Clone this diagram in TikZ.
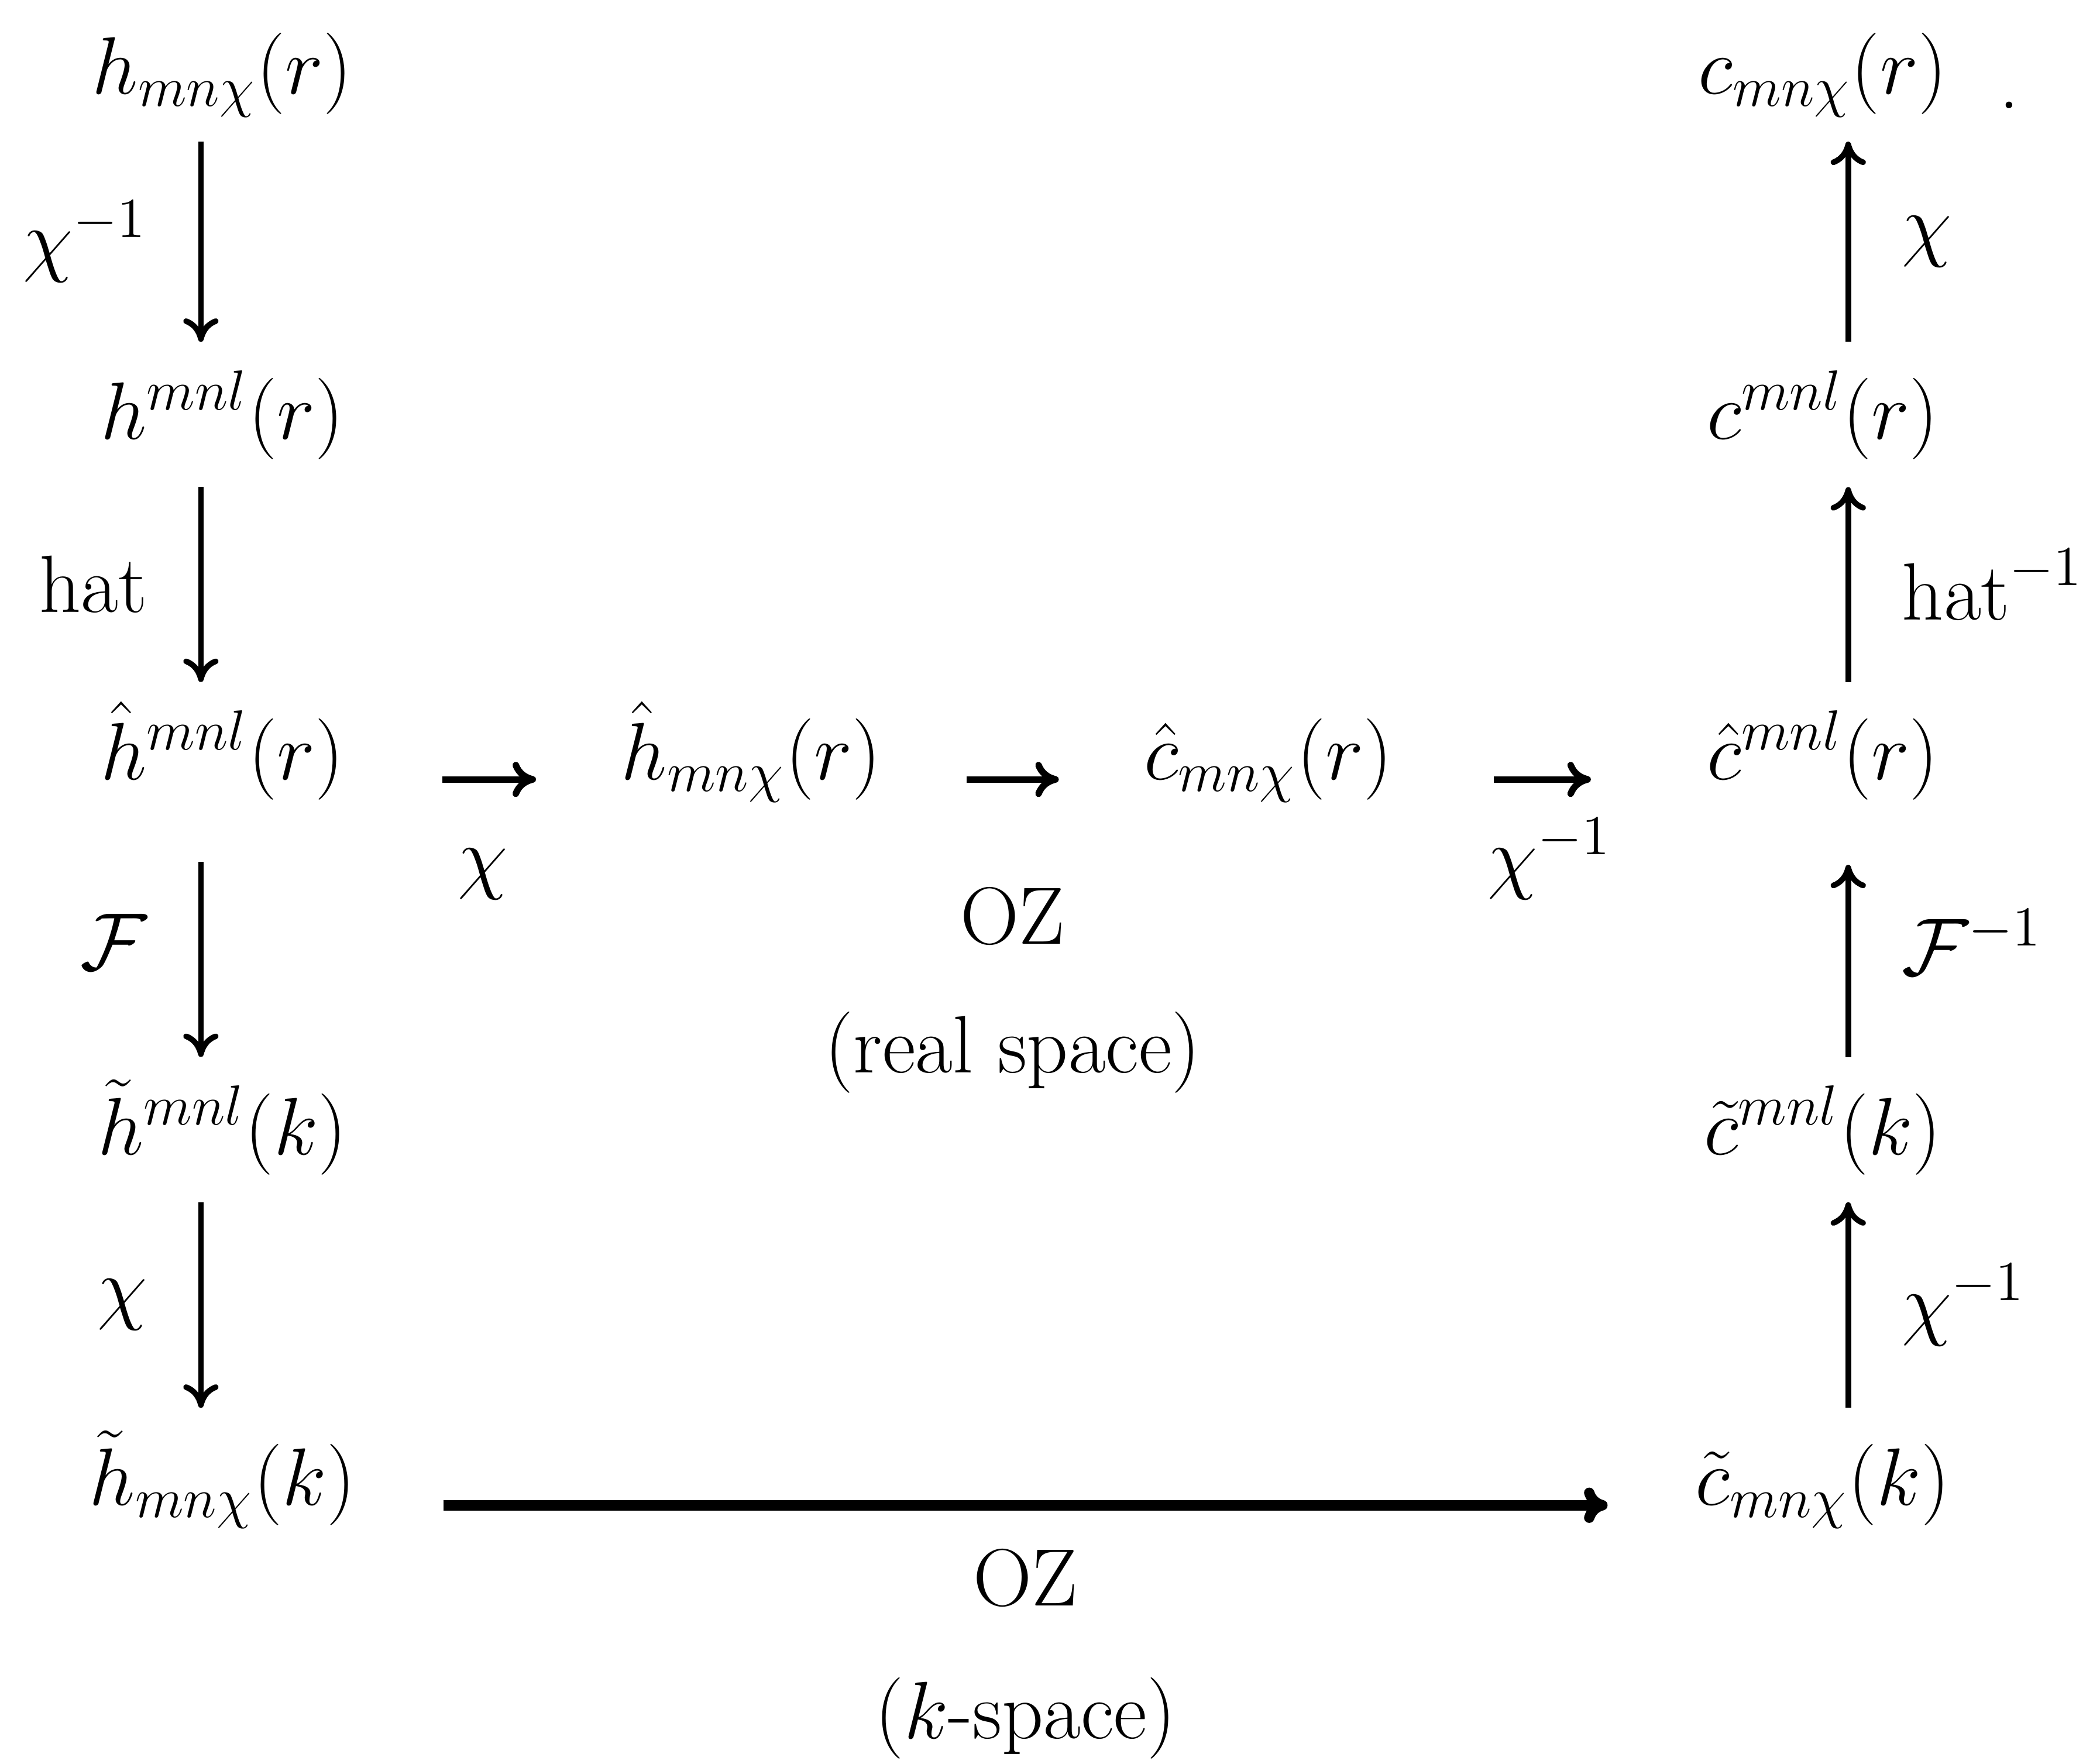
\documentclass[tikz,border=0pt]{standalone}
\usepackage{amsmath}
\usepackage{tikz}
\usetikzlibrary{arrows.meta,positioning}
\newcommand{\ozsize}{\fontsize{17.28}{21}\selectfont}
\tikzset{
 >={To[length=5pt,width=7.5pt]},
 oz term/.style={anchor=base,inner sep=0pt,text height=.72cm,text depth=.35cm,font=\ozsize},
 oz label/.style={inner sep=0pt,font=\ozsize},
 oz vert/.style={->,line width=1.2pt},
 oz short/.style={->,line width=1.4pt},
 oz long/.style={->,line width=2.2pt,shorten <=.65cm,shorten >=.65cm},
 oz left/.style={oz label,left=.38cm},
 oz right/.style={oz label,right=.38cm},
 oz under/.style={oz label,anchor=base,yshift=#1},
 oz under/.default=-.78cm
}
\begin{document}
\begin{tikzpicture}
 \useasboundingbox (0,0) rectangle (15.68,-13.17);
 % left column: r-space down to k-space, right column: back up again
 \coordinate (lcol) at (1.50,0);
 \coordinate (rcol) at (13.80,0);

 \node[oz term] (hx) at (1.66,-0.70) {$h_{mn\chi}(r)$};
 \node[oz term] (hl) at (1.66,-3.28) {$h^{mnl}(r)$};
 \node[oz term] (hhl) at (1.66,-5.82) {$\hat{h}^{mnl}(r)$};
 \node[oz term] (htl) at (1.66,-8.62) {$\tilde{h}^{mnl}(k)$};
 \node[oz term] (htx) at (1.66,-11.24) {$\tilde{h}_{mn\chi}(k)$};
 \node[oz term] (hhx) at (5.61,-5.82) {$\hat{h}_{mn\chi}(r)$};
 \node[oz term] (chx) at (9.47,-5.82) {$\hat{c}_{mn\chi}(r)$};
 \node[oz term] (cx) at (13.61,-0.70) {$c_{mn\chi}(r)$};
 \node[oz term] (cl) at (13.61,-3.28) {$c^{mnl}(r)$};
 \node[oz term] (chl) at (13.61,-5.82) {$\hat{c}^{mnl}(r)$};
 \node[oz term] (ctl) at (13.61,-8.62) {$\tilde{c}^{mnl}(k)$};
 \node[oz term] (ctx) at (13.61,-11.24) {$\tilde{c}_{mn\chi}(k)$};
 \node[oz label,anchor=base] (stop) at (15.00,-0.81) {.};

 \draw[oz vert] (hx.south -| lcol) -- node[oz left] (lx1) {$\chi^{-1}$} (hl.north -| lcol);
 \draw[oz vert] (hl.south -| lcol) -- node[oz left] (lx2) {hat} (hhl.north -| lcol);
 \draw[oz vert,shorten <=.26cm] (hhl.south -| lcol) -- node[oz left] (lx3) {$\mathcal{F}$} (htl.north -| lcol);
 \draw[oz vert] (htl.south -| lcol) -- node[oz left] (lx4) {$\chi$} (htx.north -| lcol);

 \draw[oz vert] (ctx.north -| rcol) -- node[oz right] (rx4) {$\chi^{-1}$} (ctl.south -| rcol);
 \draw[oz vert,shorten >=.28cm] (ctl.north -| rcol) -- node[oz right] (rx3) {$\mathcal{F}^{-1}$} (chl.south -| rcol);
 \draw[oz vert] (chl.north -| rcol) -- node[oz right] (rx2) {$\mathrm{hat}^{-1}$} (cl.south -| rcol);
 \draw[oz vert] (cl.north -| rcol) -- node[oz right] (rx1) {$\chi$} (cx.south -| rcol);

 \draw[oz short,shorten <=.73cm,shorten >=.63cm] (hhl.base east) -- node[oz under] (mx1) {$\chi$} (hhx.base west);
 \draw[oz short,shorten <=.63cm,shorten >=.63cm] (hhx.base east) -- node[oz under=-1.23cm] (mx2) {OZ}
   node[oz under=-2.19cm] (mx3) {(real space)} (chx.base west);
 \draw[oz short,shorten <=.75cm,shorten >=.86cm] (chx.base east) -- node[oz under] (mx4) {$\chi^{-1}$} (chl.base west);

 \draw[oz long] (htx.base east) -- node[oz under=-.75cm] (bx1) {OZ}
   node[oz under=-1.74cm] (bx2) {($k$-space)} (ctx.base west);
\end{tikzpicture}
\end{document}
